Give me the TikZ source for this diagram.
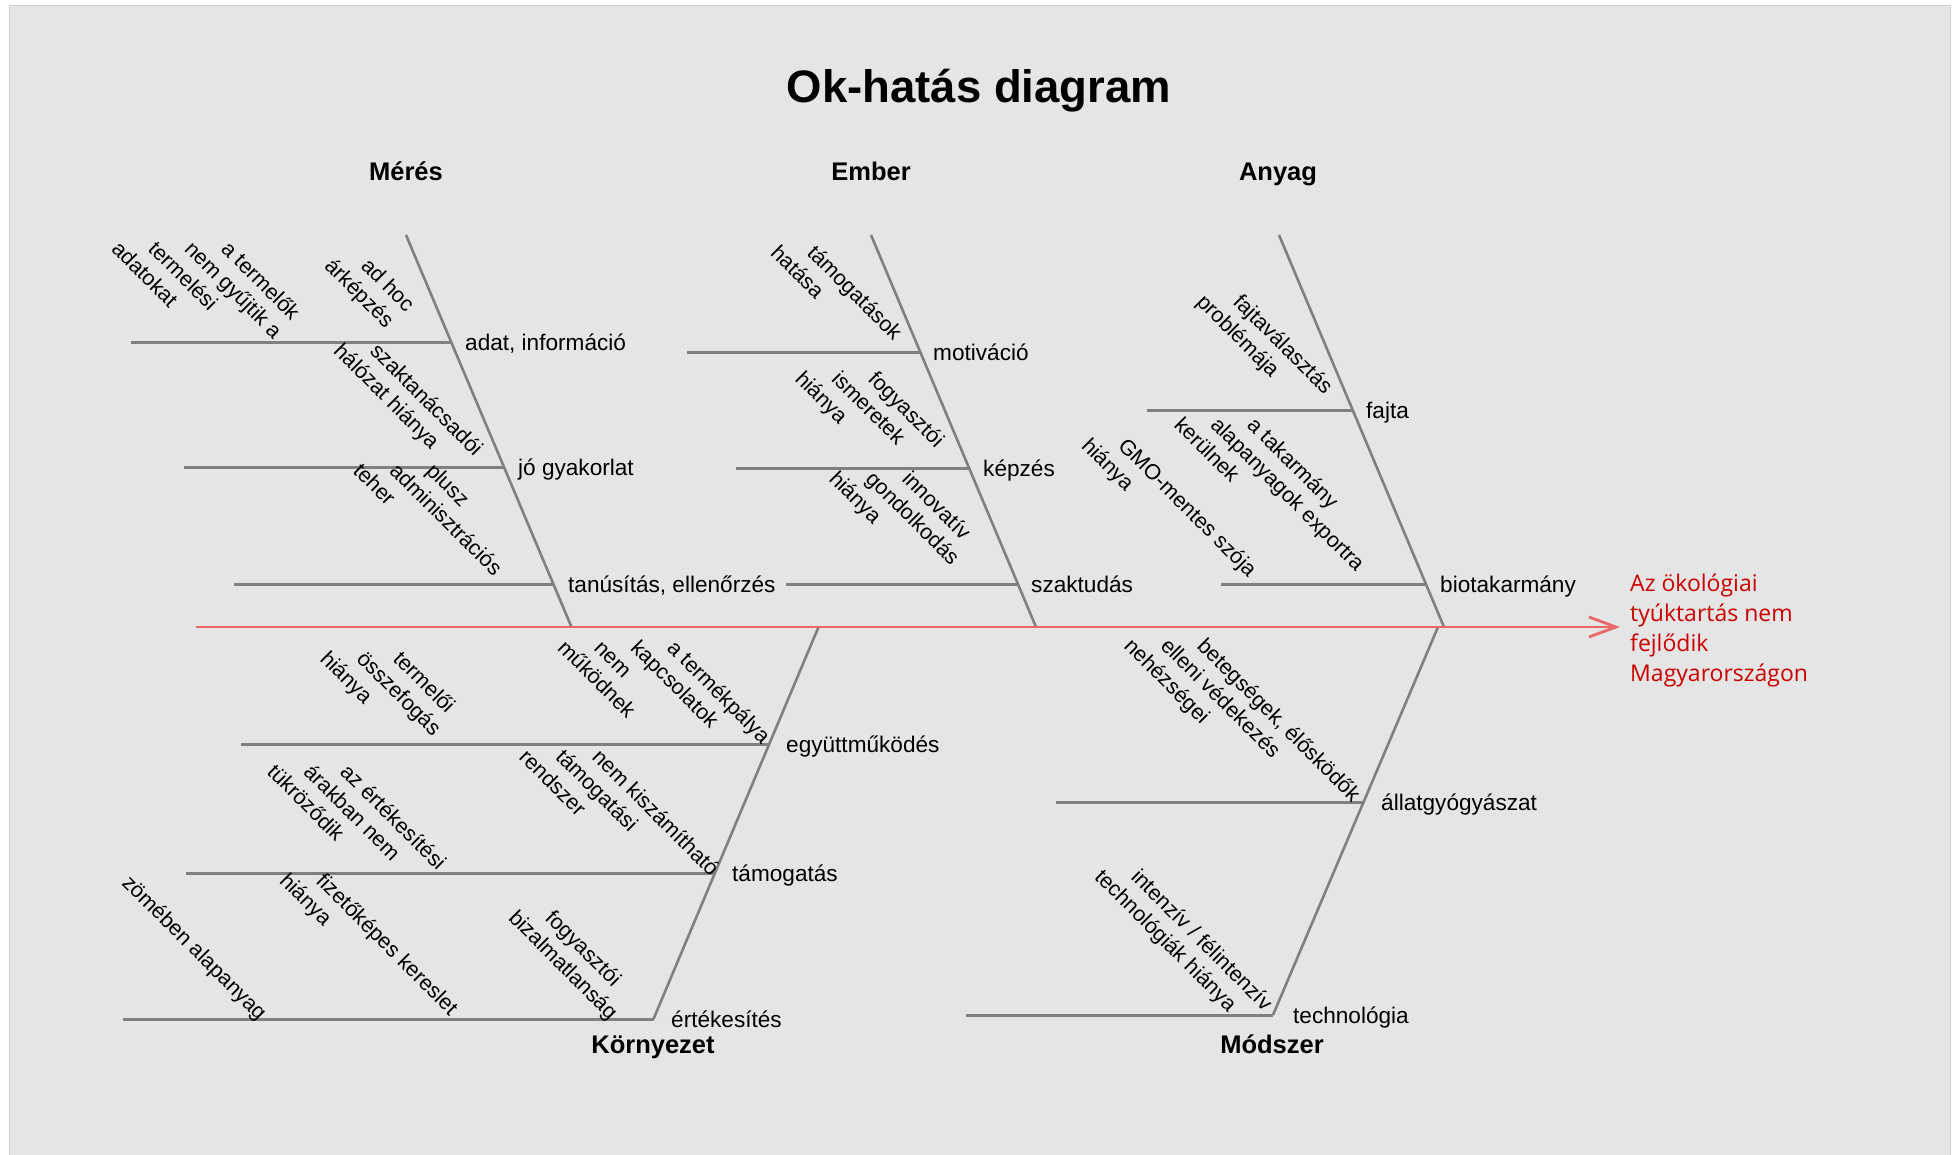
\documentclass[tikz,border=0pt]{standalone}
\usepackage{fontspec}
\setmainfont{Liberation Sans}
\newfontfamily\redfont{Open Sans}
\usetikzlibrary{arrows.meta,calc}
\definecolor{bgc}{RGB}{229,229,229}
\definecolor{bgedge}{RGB}{208,208,208}
\definecolor{bonec}{RGB}{128,128,128}
\definecolor{spinec}{RGB}{232,104,104}
\definecolor{effc}{RGB}{204,0,0}
\newcommand\fbblock[4]{%
  \foreach \fbline [count=\k from 0] in {#4} {
    \node[sublab] (#1-\k) at (#2+7-36.5*\k,#3) {\fbline};
  }%
}
\begin{document}
\begin{tikzpicture}[x=1pt,y=-1pt,
  bone/.style={draw=bonec,line width=2.6pt},
  rib/.style={draw=bonec,line width=3pt},
  riblab/.style={anchor=base west,inner sep=0pt,font=\fontsize{22.6}{27}\selectfont},
  sublab/.style={anchor=base west,inner sep=0pt,rotate=-45,font=\fontsize{21.5}{26}\selectfont},
  catlab/.style={anchor=base,inner sep=0pt,font=\bfseries\fontsize{25.5}{30}\selectfont},
]
\useasboundingbox (0,0) rectangle (1957,1154);
\fill[white] (0,0) rectangle (1957,1154);
\filldraw[fill=bgc,draw=bgedge,line width=1pt] (9.5,5.5) rectangle (1950,1160);

\node[anchor=base,inner sep=0pt,font=\bfseries\fontsize{45.5}{50}\selectfont] (title) at (979,102) {Ok-hatás diagram};

% bones
\coordinate (Mt) at (406,235);   \coordinate (Mb) at (571.5,627);
\coordinate (Et) at (871,235);   \coordinate (Eb) at (1036,627);
\coordinate (At) at (1279,235);  \coordinate (Ab) at (1444,627);
\coordinate (Kt) at (818.5,627); \coordinate (Kb) at (653.5,1019);
\coordinate (Dt) at (1438,627);  \coordinate (Db) at (1273,1015);
\draw[bone] (Mt) -- (Mb);
\draw[bone] (Et) -- (Eb);
\draw[bone] (At) -- (Ab);
\draw[bone] (Kt) -- (Kb);
\draw[bone] (Dt) -- (Db);

% ribs
\coordinate (r1s) at (131,342.5);  \coordinate (r1b) at ($(Mt)!0.2742!(Mb)$);
\coordinate (r2s) at (184,467.7);  \coordinate (r2b) at ($(Mt)!0.5936!(Mb)$);
\coordinate (r3s) at (234,584);    \coordinate (r3b) at ($(Mt)!0.8903!(Mb)$);
\coordinate (r4s) at (687,352);    \coordinate (r4b) at ($(Et)!0.2985!(Eb)$);
\coordinate (r5s) at (736,468);    \coordinate (r5b) at ($(Et)!0.5944!(Eb)$);
\coordinate (r6s) at (786,584);    \coordinate (r6b) at ($(Et)!0.8903!(Eb)$);
\coordinate (r7s) at (1147,410);   \coordinate (r7b) at ($(At)!0.4464!(Ab)$);
\coordinate (r8s) at (1221,584);   \coordinate (r8b) at ($(At)!0.8903!(Ab)$);
\coordinate (r9s) at (241,744);    \coordinate (r9b) at ($(Kt)!0.2985!(Kb)$);
\coordinate (r10s) at (186,873);   \coordinate (r10b) at ($(Kt)!0.6276!(Kb)$);
\coordinate (r11s) at (123,1019);
\coordinate (r12s) at (1056,802);  \coordinate (r12b) at ($(Dt)!0.451!(Db)$);
\coordinate (r13s) at (966,1015);
\foreach \r in {r1,r2,r3,r4,r5,r6,r7,r8,r9,r10,r12}
  \draw[rib] (\r s) -- (\r s -| \r b);
\draw[rib] (r11s) -- (Kb);
\draw[rib] (r13s) -- (Db);

% rib labels
\node[riblab] (l1) at (465,350.5) {adat, információ};
\node[riblab] (l2) at (518,475.7) {jó gyakorlat};
\node[riblab] (l3) at (568,592) {tanúsítás, ellenőrzés};
\node[riblab] (l4) at (933,360) {motiváció};
\node[riblab] (l5) at (983,476) {képzés};
\node[riblab] (l6) at (1031,592) {szaktudás};
\node[riblab] (l7) at (1366,418) {fajta};
\node[riblab] (l8) at (1440,592) {biotakarmány};
\node[riblab] (l9) at (786,752) {együttműködés};
\node[riblab] (l10) at (732,881) {támogatás};
\node[riblab] (l11) at (671,1027) {értékesítés};
\node[riblab] (l12) at (1381,810) {állatgyógyászat};
\node[riblab] (l13) at (1293,1023) {technológia};

% category labels
\node[catlab] (cM) at (406,180) {Mérés};
\node[catlab] (cE) at (871,180) {Ember};
\node[catlab] (cA) at (1278,180) {Anyag};
\node[catlab] (cK) at (653,1053) {Környezet};
\node[catlab] (cD) at (1272,1053) {Módszer};

% sub-causes
\fbblock{b1}{213}{250}{{a termelők},{nem gyűjtik a},{termelési},{adatokat}}
\fbblock{b2}{353}{267}{{ad hoc},{árképzés}}
\fbblock{b3}{362}{352}{{szaktanácsadói},{hálózat hiánya}}
\fbblock{b4}{418}{472}{{plusz},{adminisztrációs},{teher}}
\fbblock{b5}{799}{254}{{támogatások},{hatása}}
\fbblock{b6}{860}{380}{{fogyasztói},{ismeretek},{hiánya}}
\fbblock{b7}{894}{480}{{innovatív},{gondolkodás},{hiánya}}
\fbblock{b8}{1225}{303}{{fajtaválasztás},{problémája}}
\fbblock{b9}{1239}{426}{{a takarmány},{alapanyagok exportra},{kerülnek}}
\fbblock{b10}{1110}{447}{{GMO-mentes szója},{hiánya}}
\fbblock{b11}{385}{660}{{termelői},{összefogás},{hiánya}}
\fbblock{b12}{659}{649}{{a termékpálya},{kapcsolatok},{nem},{működnek}}
\fbblock{b13}{332}{773}{{az értékesítési},{árakban nem},{tükröződik}}
\fbblock{b14}{584}{758}{{nem kiszámítható},{támogatási},{rendszer}}
\fbblock{b15}{114}{884}{{zömében alapanyag}}
\fbblock{b16}{308}{882}{{fizetőképes kereslet},{hiánya}}
\fbblock{b17}{537}{919}{{fogyasztói},{bizalmatlanság}}
\fbblock{b18}{1189}{647}{{betegségek, élősködők},{elleni védekezés},{nehézségei}}
\fbblock{b19}{1123}{878}{{intenzív / félintenzív},{technológiák hiánya}}

% spine and effect
\coordinate (tail) at (196,627);
\coordinate (head) at (1620,627);
\draw[draw=spinec,line width=2.8pt,-{Straight Barb[length=27pt,width=20pt]}] (tail) -- (head);
\node[anchor=base west,inner sep=0pt,text=effc,font=\redfont\fontsize{23}{30}\selectfont] (effect) at (1630,591)
  {\begin{tabular}[t]{@{}l@{}}Az ökológiai\\ tyúktartás nem\\ fejlődik\\ Magyarországon\end{tabular}};
\end{tikzpicture}
\end{document}
